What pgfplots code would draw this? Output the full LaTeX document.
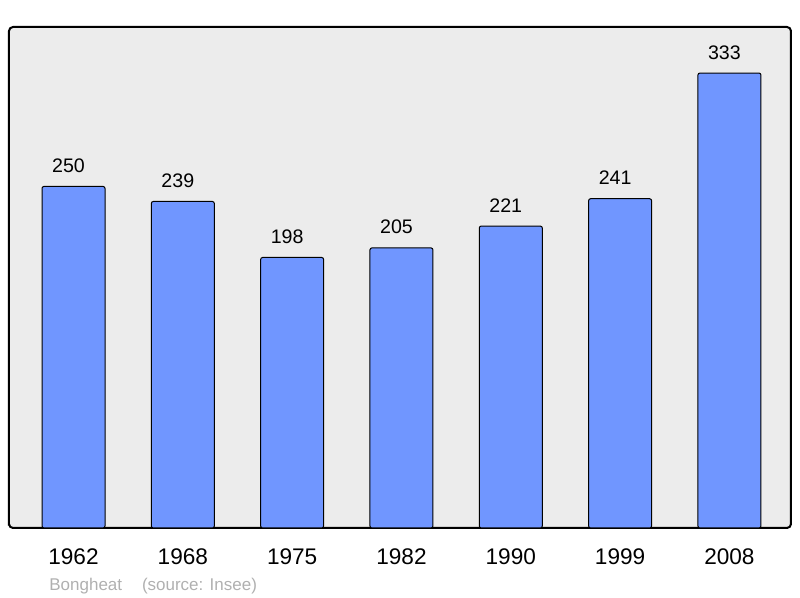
\documentclass[border=0pt]{standalone}
\usepackage{pgfplots}
\pgfplotsset{compat=1.18}
\usepackage{fontspec}
\setmainfont{Liberation Sans}
\definecolor{barblue}{RGB}{112,150,255}
\definecolor{panel}{RGB}{236,236,236}
\definecolor{srcgray}{RGB}{176,176,176}
\begin{document}
\begin{tikzpicture}[x=1pt,y=1pt]
\path[use as bounding box] (0,0) rectangle (400,299);
\begin{axis}[
    at={(4.5pt,35pt)}, anchor=south west,
    scale only axis,
    width=391pt, height=250.5pt,
    xmin=-0.59, xmax=6.563,
    ymin=0, ymax=366.7,
    axis background/.style={fill=panel, rounded corners=2pt},
    axis line style={line width=1pt, rounded corners=2pt},
    ytick=\empty,
    xtick={0,...,6},
    xticklabels={1962,1968,1975,1982,1990,1999,2008},
    major tick length=0pt,
    xticklabel style={anchor=base, yshift=-18.5pt, font=\fontsize{11.3}{13}\selectfont},
    /pgf/number format/assume math mode=true,
    ybar, bar width=31.5pt,
    nodes near coords,
    every node near coord/.append style={anchor=base, yshift=7pt, xshift=-2.5pt, font=\fontsize{9.8}{12}\selectfont, black},
    clip=false,
]
\addplot[fill=barblue, draw=black, line width=0.5pt, rounded corners=1pt] coordinates {
    (0,250) (1,239) (2,198) (3,205) (4,221) (5,241) (6,333)
};
\end{axis}
\node[anchor=base west, inner sep=0pt, text=srcgray, font=\fontsize{8.5}{10}\selectfont] at (24.5,3.5) {Bongheat};
\node[anchor=base west, inner sep=0pt, text=srcgray, font=\fontsize{8.5}{10}\selectfont] at (70.8,3.5) {(source: Insee)};
\end{tikzpicture}
\end{document}
